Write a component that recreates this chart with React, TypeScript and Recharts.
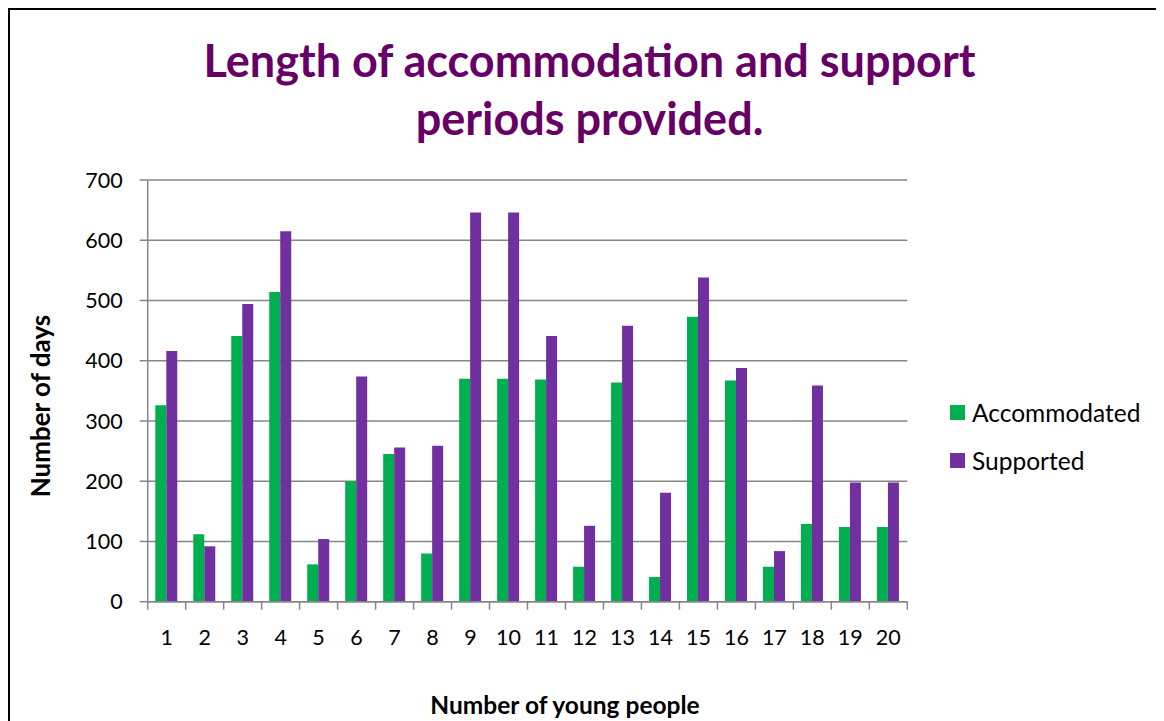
import React from "react";
import { BarChart, Bar, XAxis, YAxis, CartesianGrid, Legend } from "recharts";

const categories = ["1","2","3","4","5","6","7","8","9","10","11","12","13","14","15","16","17","18","19","20"];
const accommodated = [326, 112, 441, 514, 62, 200, 245, 80, 370, 370, 369, 58, 364, 41, 473, 367, 58, 129, 124, 124];
const supported = [416, 92, 494, 615, 104, 374, 256, 259, 646, 646, 441, 126, 458, 181, 538, 388, 84, 359, 198, 198];
const yTicks = [0, 100, 200, 300, 400, 500, 600, 700];

const GREEN = "#00B050";
const PURPLE = "#7030A0";
const GRID = "#868686";
const FONT = "Lato, 'Open Sans', sans-serif";

const data = categories.map((c, i) => ({ name: c, Accommodated: accommodated[i], Supported: supported[i] }));

const XTick = (props: any) => {
  const { x, y, payload, index, visibleTicksCount } = props;
  const off = payload && typeof payload.offset === "number" ? payload.offset : 19;
  const isLast = visibleTicksCount ? index === visibleTicksCount - 1 : payload.value === categories[categories.length - 1];
  return (
    <g>
      <line x1={x - off} x2={x - off} y1={y} y2={y + 8} stroke={GRID} strokeWidth={1.5} />
      {isLast && <line x1={x + off} x2={x + off} y1={y} y2={y + 8} stroke={GRID} strokeWidth={1.5} />}
      <text x={x} y={y + 43} textAnchor="middle" fontSize={21.5} fontFamily={FONT} fill="#000">
        {payload.value}
      </text>
    </g>
  );
};

const LegendContent = () => (
  <div style={{ fontFamily: FONT, fontSize: 24.5, color: "#000" }}>
    {[
      { label: "Accommodated", color: GREEN },
      { label: "Supported", color: PURPLE },
    ].map((it) => (
      <div key={it.label} style={{ display: "flex", alignItems: "center", height: 48 }}>
        <span style={{ display: "inline-block", width: 15, height: 15, background: it.color, marginRight: 7 }} />
        <span>{it.label}</span>
      </div>
    ))}
  </div>
);

export default function App() {
  return (
    <div
      style={{
        position: "relative",
        width: 1170,
        height: 730,
        border: "2px solid #000",
        background: "#fff",
        boxSizing: "border-box",
      }}
    >
      <div
        style={{
          position: "absolute",
          left: 0,
          top: 20.5,
          width: 1159,
          textAlign: "center",
          fontFamily: FONT,
          fontWeight: 700,
          fontSize: 45,
          lineHeight: "58px",
          color: "#660066",
        }}
      >
        Length of accommodation and support
        <br />
        periods provided.
      </div>
      <BarChart
        width={1150}
        height={715}
        data={data}
        margin={{ top: 170, right: 252.7, left: 77.7, bottom: 83.3 }}
        barCategoryGap="20%"
        barGap={0}
      >
        <CartesianGrid vertical={false} stroke={GRID} strokeWidth={1.5} />
        <XAxis
          dataKey="name"
          height={40}
          tickLine={false}
          tickSize={0}
          tickMargin={0}
          axisLine={{ stroke: GRID, strokeWidth: 1.5 }}
          tick={<XTick />}
          interval={0}
        />
        <YAxis
          width={60}
          domain={[0, 700]}
          ticks={yTicks}
          tickSize={8}
          tickMargin={17}
          axisLine={{ stroke: GRID, strokeWidth: 1.5 }}
          tickLine={{ stroke: GRID, strokeWidth: 1.5 }}
          tick={{ fontSize: 21.5, fontFamily: FONT, fill: "#000" }}
          interval={0}
        />
        <Legend
          layout="horizontal"
          verticalAlign="middle"
          align="center"
          width={220}
          wrapperStyle={{ left: 940, top: 378, width: 220 }}
          content={<LegendContent />}
        />
        <Bar dataKey="Accommodated" fill={GREEN} isAnimationActive={false} />
        <Bar dataKey="Supported" fill={PURPLE} isAnimationActive={false} />
      </BarChart>
      <div
        style={{
          position: "absolute",
          left: 555 - 300,
          top: 682,
          width: 600,
          textAlign: "center",
          fontFamily: FONT,
          fontWeight: 700,
          fontSize: 24.5,
          lineHeight: "26px",
          color: "#000",
        }}
      >
        Number of young people
      </div>
      <div
        style={{
          position: "absolute",
          left: 30 - 150,
          top: 396 - 13,
          width: 300,
          textAlign: "center",
          fontFamily: FONT,
          fontWeight: 700,
          fontSize: 26,
          lineHeight: "26px",
          color: "#000",
          transform: "rotate(-90deg)",
        }}
      >
        Number of days
      </div>
    </div>
  );
}
